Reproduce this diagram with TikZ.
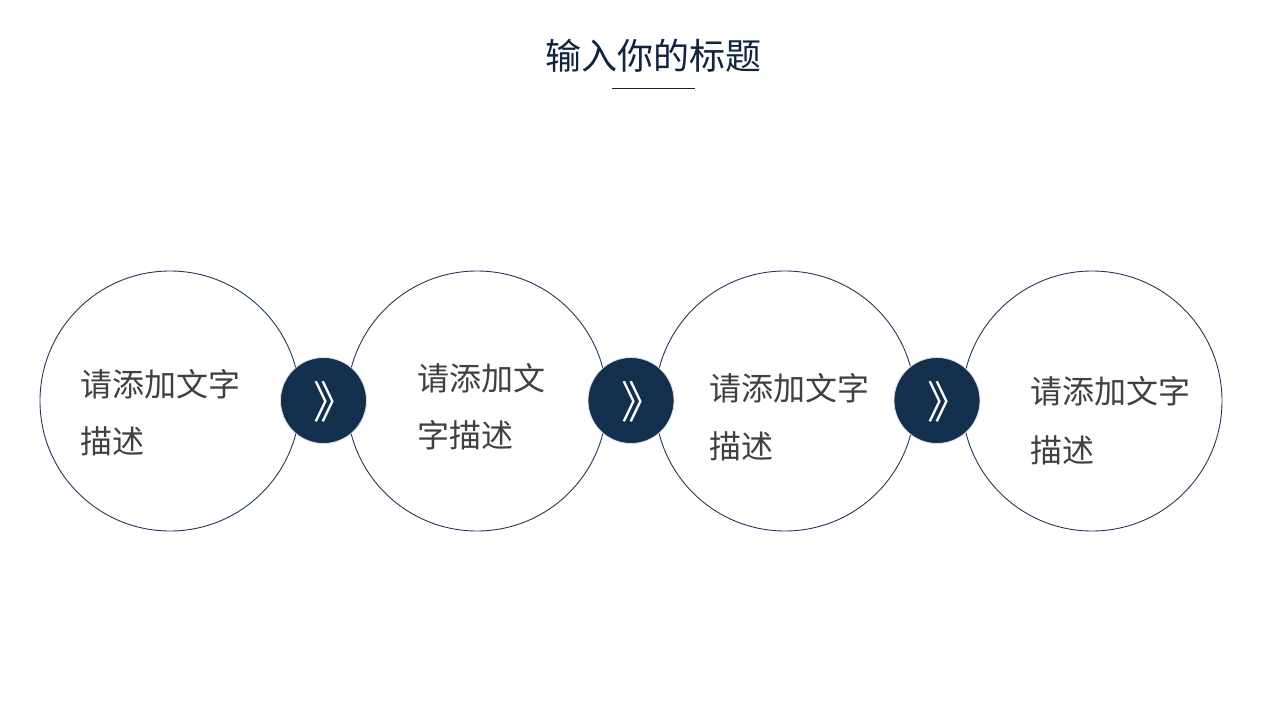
\documentclass[tikz,border=0pt]{standalone}
\usepackage{fontspec}
\newfontfamily\cjk{Noto Sans CJK SC}
\definecolor{navy}{HTML}{132F4E}
\definecolor{ringc}{HTML}{24395A}
\definecolor{titlec}{HTML}{10233F}
\definecolor{textc}{HTML}{404040}
\tikzset{
  bigc/.style={draw=ringc, line width=0.9pt, fill=none},
  smallc/.style={draw=white!85!navy, line width=0.8pt, fill=navy},
  desc/.style={anchor=base west, inner sep=0pt, text=textc, font=\cjk\fontsize{32}{32}\selectfont},
  chev/.style={inner sep=0pt, text=white, xshift=12pt, yshift=-1pt, font=\cjk\fontsize{44}{44}\selectfont},
}
\begin{document}
\begin{tikzpicture}[x=1pt,y=-1pt]
\useasboundingbox (0,0) rectangle (1280,720);
\fill[white] (0,0) rectangle (1280,720);
% title
\node[anchor=base, inner sep=0pt, text=titlec, font=\cjk\fontsize{36}{36}\selectfont] (title) at (653,69.5) {输入你的标题};
\coordinate (ul1) at (612,88);
\coordinate (ul2) at (695,88);
\draw[titlec, line width=0.9pt] (ul1) -- (ul2);
% big circles
\node[bigc, circle, minimum size=260pt, inner sep=0pt] (c1) at (170,401) {};
\node[bigc, circle, minimum size=260pt, inner sep=0pt] (c2) at (477,401) {};
\node[bigc, circle, minimum size=260pt, inner sep=0pt] (c3) at (785,401) {};
\node[bigc, circle, minimum size=260pt, inner sep=0pt] (c4) at (1092,401) {};
% small circles
\node[smallc, circle, minimum size=86pt, inner sep=0pt] (s1) at (323.5,400.5) {};
\node[smallc, circle, minimum size=86pt, inner sep=0pt] (s2) at (631,400.5) {};
\node[smallc, circle, minimum size=86pt, inner sep=0pt] (s3) at (937,400.5) {};
\node[chev] (a1) at (s1) {》};
\node[chev] (a2) at (s2) {》};
\node[chev] (a3) at (s3) {》};
% texts
\node[desc] (t1a) at (80,396) {请添加文字};
\node[desc] (t1b) at (80,453) {描述};
\node[desc] (t2a) at (417,390) {请添加文};
\node[desc] (t2b) at (417,447) {字描述};
\node[desc] (t3a) at (709,400) {请添加文字};
\node[desc] (t3b) at (709,458) {描述};
\node[desc] (t4a) at (1030,403) {请添加文字};
\node[desc] (t4b) at (1030,462) {描述};
\end{tikzpicture}
\end{document}
